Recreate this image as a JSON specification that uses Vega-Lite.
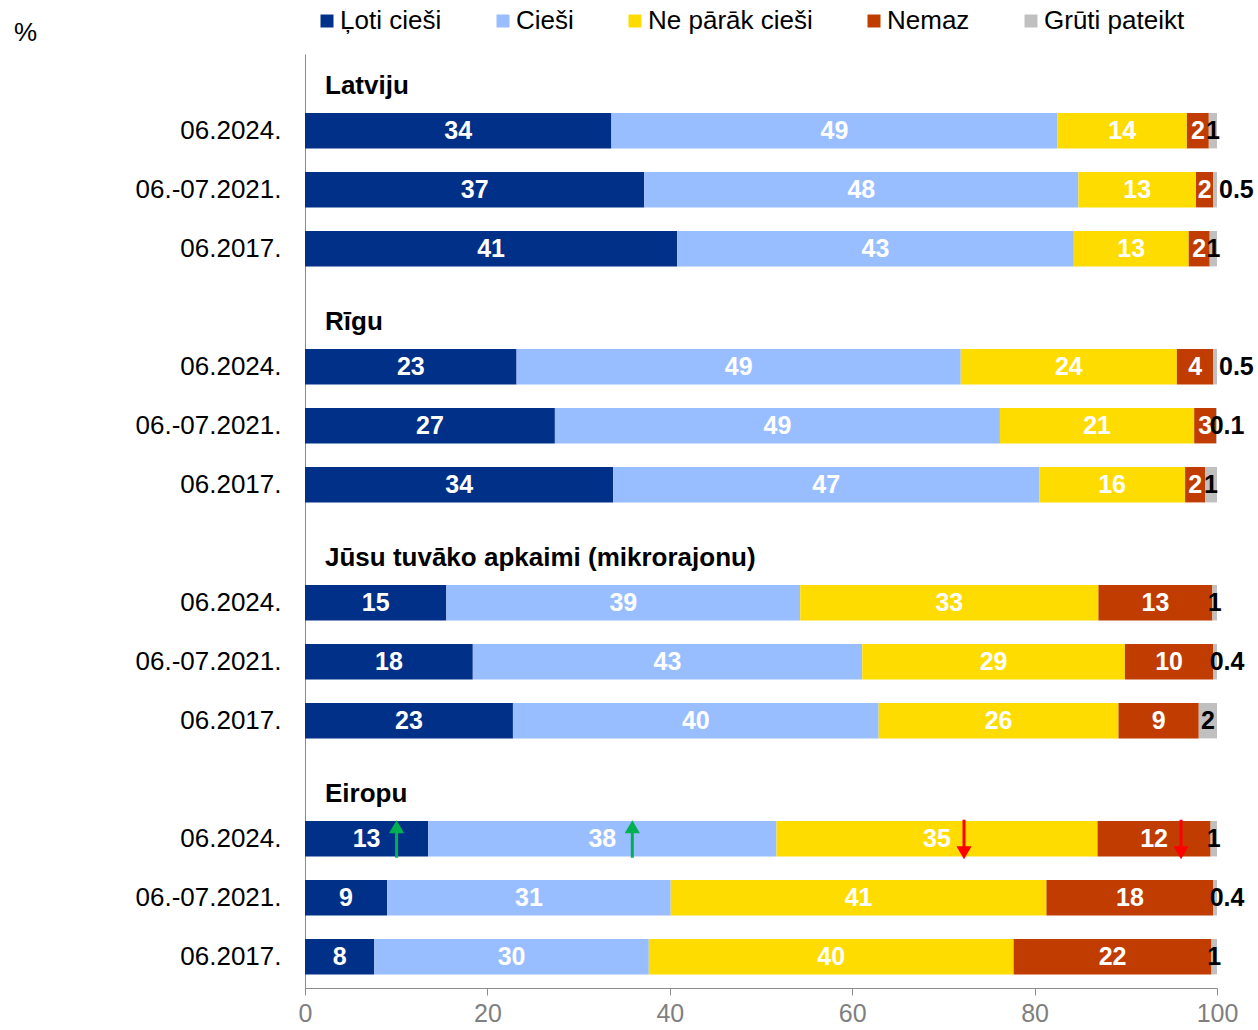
{
  "$schema": "https://vega.github.io/schema/vega-lite/v6.json",
  "width": 912,
  "height": 934,
  "autosize": {"type": "none"},
  "padding": {"left": 305, "top": 54, "right": 41, "bottom": 42},
  "config": {
    "font": "Liberation Sans",
    "view": {"stroke": null}
  },
  "datasets": {
    "headers": [
      {"row": "Latviju", "name": "Latviju"},
      {"row": "Rīgu", "name": "Rīgu"},
      {"row": "Jūsu tuvāko apkaimi (mikrorajonu)", "name": "Jūsu tuvāko apkaimi (mikrorajonu)"},
      {"row": "Eiropu", "name": "Eiropu"}
    ]
  },
  "data": {"values": [
    {"row": "Latviju|06.2024.", "cat": "Ļoti cieši", "k": 1, "v": 33.6, "label": "34"},
    {"row": "Latviju|06.2024.", "cat": "Cieši", "k": 2, "v": 48.9, "label": "49"},
    {"row": "Latviju|06.2024.", "cat": "Ne pārāk cieši", "k": 3, "v": 14.2, "label": "14"},
    {"row": "Latviju|06.2024.", "cat": "Nemaz", "k": 4, "v": 2.4, "label": "2"},
    {"row": "Latviju|06.2024.", "cat": "Grūti pateikt", "k": 5, "v": 0.9, "label": "1"},
    {"row": "Latviju|06.-07.2021.", "cat": "Ļoti cieši", "k": 1, "v": 37.2, "label": "37"},
    {"row": "Latviju|06.-07.2021.", "cat": "Cieši", "k": 2, "v": 47.6, "label": "48"},
    {"row": "Latviju|06.-07.2021.", "cat": "Ne pārāk cieši", "k": 3, "v": 12.9, "label": "13"},
    {"row": "Latviju|06.-07.2021.", "cat": "Nemaz", "k": 4, "v": 1.9, "label": "2"},
    {"row": "Latviju|06.-07.2021.", "cat": "Grūti pateikt", "k": 5, "v": 0.4, "label": "0.5"},
    {"row": "Latviju|06.2017.", "cat": "Ļoti cieši", "k": 1, "v": 40.8, "label": "41"},
    {"row": "Latviju|06.2017.", "cat": "Cieši", "k": 2, "v": 43.5, "label": "43"},
    {"row": "Latviju|06.2017.", "cat": "Ne pārāk cieši", "k": 3, "v": 12.6, "label": "13"},
    {"row": "Latviju|06.2017.", "cat": "Nemaz", "k": 4, "v": 2.3, "label": "2"},
    {"row": "Latviju|06.2017.", "cat": "Grūti pateikt", "k": 5, "v": 0.8, "label": "1"},
    {"row": "Rīgu|06.2024.", "cat": "Ļoti cieši", "k": 1, "v": 23.2, "label": "23"},
    {"row": "Rīgu|06.2024.", "cat": "Cieši", "k": 2, "v": 48.7, "label": "49"},
    {"row": "Rīgu|06.2024.", "cat": "Ne pārāk cieši", "k": 3, "v": 23.7, "label": "24"},
    {"row": "Rīgu|06.2024.", "cat": "Nemaz", "k": 4, "v": 4.0, "label": "4"},
    {"row": "Rīgu|06.2024.", "cat": "Grūti pateikt", "k": 5, "v": 0.4, "label": "0.5"},
    {"row": "Rīgu|06.-07.2021.", "cat": "Ļoti cieši", "k": 1, "v": 27.4, "label": "27"},
    {"row": "Rīgu|06.-07.2021.", "cat": "Cieši", "k": 2, "v": 48.8, "label": "49"},
    {"row": "Rīgu|06.-07.2021.", "cat": "Ne pārāk cieši", "k": 3, "v": 21.3, "label": "21"},
    {"row": "Rīgu|06.-07.2021.", "cat": "Nemaz", "k": 4, "v": 2.4, "label": "3"},
    {"row": "Rīgu|06.-07.2021.", "cat": "Grūti pateikt", "k": 5, "v": 0.1, "label": "0.1"},
    {"row": "Rīgu|06.2017.", "cat": "Ļoti cieši", "k": 1, "v": 33.8, "label": "34"},
    {"row": "Rīgu|06.2017.", "cat": "Cieši", "k": 2, "v": 46.7, "label": "47"},
    {"row": "Rīgu|06.2017.", "cat": "Ne pārāk cieši", "k": 3, "v": 16.0, "label": "16"},
    {"row": "Rīgu|06.2017.", "cat": "Nemaz", "k": 4, "v": 2.2, "label": "2"},
    {"row": "Rīgu|06.2017.", "cat": "Grūti pateikt", "k": 5, "v": 1.3, "label": "1"},
    {"row": "Jūsu|06.2024.", "cat": "Ļoti cieši", "k": 1, "v": 15.5, "label": "15"},
    {"row": "Jūsu|06.2024.", "cat": "Cieši", "k": 2, "v": 38.8, "label": "39"},
    {"row": "Jūsu|06.2024.", "cat": "Ne pārāk cieši", "k": 3, "v": 32.7, "label": "33"},
    {"row": "Jūsu|06.2024.", "cat": "Nemaz", "k": 4, "v": 12.5, "label": "13"},
    {"row": "Jūsu|06.2024.", "cat": "Grūti pateikt", "k": 5, "v": 0.5, "label": "1"},
    {"row": "Jūsu|06.-07.2021.", "cat": "Ļoti cieši", "k": 1, "v": 18.4, "label": "18"},
    {"row": "Jūsu|06.-07.2021.", "cat": "Cieši", "k": 2, "v": 42.7, "label": "43"},
    {"row": "Jūsu|06.-07.2021.", "cat": "Ne pārāk cieši", "k": 3, "v": 28.8, "label": "29"},
    {"row": "Jūsu|06.-07.2021.", "cat": "Nemaz", "k": 4, "v": 9.7, "label": "10"},
    {"row": "Jūsu|06.-07.2021.", "cat": "Grūti pateikt", "k": 5, "v": 0.4, "label": "0.4"},
    {"row": "Jūsu|06.2017.", "cat": "Ļoti cieši", "k": 1, "v": 22.8, "label": "23"},
    {"row": "Jūsu|06.2017.", "cat": "Cieši", "k": 2, "v": 40.1, "label": "40"},
    {"row": "Jūsu|06.2017.", "cat": "Ne pārāk cieši", "k": 3, "v": 26.3, "label": "26"},
    {"row": "Jūsu|06.2017.", "cat": "Nemaz", "k": 4, "v": 8.8, "label": "9"},
    {"row": "Jūsu|06.2017.", "cat": "Grūti pateikt", "k": 5, "v": 2.0, "label": "2"},
    {"row": "Eiropu|06.2024.", "cat": "Ļoti cieši", "k": 1, "v": 13.5, "label": "13", "arrow": "up"},
    {"row": "Eiropu|06.2024.", "cat": "Cieši", "k": 2, "v": 38.2, "label": "38", "arrow": "up"},
    {"row": "Eiropu|06.2024.", "cat": "Ne pārāk cieši", "k": 3, "v": 35.2, "label": "35", "arrow": "down"},
    {"row": "Eiropu|06.2024.", "cat": "Nemaz", "k": 4, "v": 12.4, "label": "12", "arrow": "down"},
    {"row": "Eiropu|06.2024.", "cat": "Grūti pateikt", "k": 5, "v": 0.7, "label": "1"},
    {"row": "Eiropu|06.-07.2021.", "cat": "Ļoti cieši", "k": 1, "v": 9.0, "label": "9"},
    {"row": "Eiropu|06.-07.2021.", "cat": "Cieši", "k": 2, "v": 31.1, "label": "31"},
    {"row": "Eiropu|06.-07.2021.", "cat": "Ne pārāk cieši", "k": 3, "v": 41.2, "label": "41"},
    {"row": "Eiropu|06.-07.2021.", "cat": "Nemaz", "k": 4, "v": 18.3, "label": "18"},
    {"row": "Eiropu|06.-07.2021.", "cat": "Grūti pateikt", "k": 5, "v": 0.4, "label": "0.4"},
    {"row": "Eiropu|06.2017.", "cat": "Ļoti cieši", "k": 1, "v": 7.6, "label": "8"},
    {"row": "Eiropu|06.2017.", "cat": "Cieši", "k": 2, "v": 30.1, "label": "30"},
    {"row": "Eiropu|06.2017.", "cat": "Ne pārāk cieši", "k": 3, "v": 40.0, "label": "40"},
    {"row": "Eiropu|06.2017.", "cat": "Nemaz", "k": 4, "v": 21.7, "label": "22"},
    {"row": "Eiropu|06.2017.", "cat": "Grūti pateikt", "k": 5, "v": 0.6, "label": "1"}
  ]},
  "encoding": {
    "y": {
      "field": "row", "type": "nominal",
      "scale": {
        "domain": ["Latviju", "Latviju|06.2024.", "Latviju|06.-07.2021.", "Latviju|06.2017.",
                   "Rīgu", "Rīgu|06.2024.", "Rīgu|06.-07.2021.", "Rīgu|06.2017.",
                   "Jūsu tuvāko apkaimi (mikrorajonu)", "Jūsu|06.2024.", "Jūsu|06.-07.2021.", "Jūsu|06.2017.",
                   "Eiropu", "Eiropu|06.2024.", "Eiropu|06.-07.2021.", "Eiropu|06.2017."],
        "paddingInner": 0.4, "paddingOuter": 0.115, "align": 0
      },
      "axis": {
        "title": "%", "titleAngle": 0, "titleX": -280, "titleY": -22, "titleFontSize": 26,
        "titleFontWeight": "normal", "titleColor": "black", "titleAlign": "center", "titleBaseline": "middle",
        "labelExpr": "indexof(datum.value, '|') >= 0 ? split(datum.value, '|')[1] : ''",
        "labelFontSize": 26, "labelColor": "black", "ticks": false, "labelPadding": 24,
        "domainColor": "#8c8c8c", "labelLimit": 300
      }
    }
  },
  "layer": [
    {
      "mark": {"type": "bar"},
      "encoding": {
        "x": {"field": "v", "type": "quantitative", "stack": "zero", "scale": {"domain": [0, 100]},
              "axis": {"values": [0, 20, 40, 60, 80, 100], "grid": false, "title": null, "labelFontSize": 25,
                       "labelColor": "#7f7f7f", "labelFlush": false, "tickColor": "#8c8c8c", "tickSize": 7,
                       "domainColor": "#8c8c8c", "labelPadding": 6}},
        "color": {
          "field": "cat", "type": "nominal",
          "scale": {"domain": ["Ļoti cieši", "Cieši", "Ne pārāk cieši", "Nemaz", "Grūti pateikt"],
                    "range": ["#003087", "#99BEFF", "#FFDC00", "#C03C00", "#C0C0C0"]},
          "legend": {"title": null, "orient": "none", "direction": "horizontal", "legendX": 9, "legendY": -46,
                     "labelFontSize": 26, "labelColor": "black", "symbolType": "square", "symbolSize": 169,
                     "symbolStrokeWidth": 0, "labelOffset": 0, "columnPadding": 48, "gridAlign": "none",
                     "padding": 0, "labelLimit": 400}
        },
        "order": {"field": "k", "type": "quantitative"}
      }
    },
    {
      "mark": {"type": "text", "fontWeight": "bold", "fontSize": 25, "color": "white", "baseline": "middle", "align": "center"},
      "encoding": {
        "x": {"field": "v", "type": "quantitative", "stack": "zero", "bandPosition": 0.5, "scale": {"domain": [0, 100]}},
        "detail": {"field": "cat"},
        "order": {"field": "k", "type": "quantitative"},
        "text": {"condition": {"test": "datum.cat !== 'Grūti pateikt'", "field": "label"}, "value": ""}
      }
    },
    {
      "mark": {"type": "text", "fontWeight": "bold", "fontSize": 25, "color": "black", "baseline": "middle", "align": "center"},
      "encoding": {
        "x": {"field": "v", "type": "quantitative", "stack": "zero", "bandPosition": 0.5, "scale": {"domain": [0, 100]}},
        "detail": {"field": "cat"},
        "order": {"field": "k", "type": "quantitative"},
        "text": {"condition": {"test": "datum.cat === 'Grūti pateikt' && indexof(datum.label, '.') < 0", "field": "label"}, "value": ""}
      }
    },
    {
      "mark": {"type": "text", "fontWeight": "bold", "fontSize": 25, "color": "black", "baseline": "middle", "align": "left", "dx": 2},
      "encoding": {
        "x": {"field": "v", "type": "quantitative", "stack": "zero", "bandPosition": 1, "scale": {"domain": [0, 100]}},
        "detail": {"field": "cat"},
        "order": {"field": "k", "type": "quantitative"},
        "text": {"condition": {"test": "datum.cat === 'Grūti pateikt' && datum.label === '0.5'", "field": "label"}, "value": ""}
      }
    },
    {
      "mark": {"type": "text", "fontWeight": "bold", "fontSize": 25, "color": "black", "baseline": "middle", "align": "center", "dx": 10},
      "encoding": {
        "x": {"field": "v", "type": "quantitative", "stack": "zero", "bandPosition": 1, "scale": {"domain": [0, 100]}},
        "detail": {"field": "cat"},
        "order": {"field": "k", "type": "quantitative"},
        "text": {"condition": {"test": "datum.cat === 'Grūti pateikt' && (datum.label === '0.4' || datum.label === '0.1')", "field": "label"}, "value": ""}
      }
    },
    {
      "mark": {"type": "tick", "orient": "vertical", "thickness": 3, "size": 26, "xOffset": 30, "yOffset": 6, "color": "#00B050"},
      "encoding": {
        "x": {"field": "v", "type": "quantitative", "stack": "zero", "bandPosition": 0.5, "scale": {"domain": [0, 100]}},
        "detail": {"field": "cat"},
        "order": {"field": "k", "type": "quantitative"},
        "opacity": {"condition": {"test": "datum.arrow === 'up'", "value": 1}, "value": 0}
      }
    },
    {
      "mark": {"type": "point", "shape": "triangle-up", "filled": true, "size": 230, "xOffset": 30, "yOffset": -12, "color": "#00B050"},
      "encoding": {
        "x": {"field": "v", "type": "quantitative", "stack": "zero", "bandPosition": 0.5, "scale": {"domain": [0, 100]}},
        "detail": {"field": "cat"},
        "order": {"field": "k", "type": "quantitative"},
        "opacity": {"condition": {"test": "datum.arrow === 'up'", "value": 1}, "value": 0}
      }
    },
    {
      "mark": {"type": "tick", "orient": "vertical", "thickness": 3, "size": 28, "xOffset": 27, "yOffset": -5, "color": "#FF0000"},
      "encoding": {
        "x": {"field": "v", "type": "quantitative", "stack": "zero", "bandPosition": 0.5, "scale": {"domain": [0, 100]}},
        "detail": {"field": "cat"},
        "order": {"field": "k", "type": "quantitative"},
        "opacity": {"condition": {"test": "datum.arrow === 'down'", "value": 1}, "value": 0}
      }
    },
    {
      "mark": {"type": "point", "shape": "triangle-down", "filled": true, "size": 230, "xOffset": 27, "yOffset": 14, "color": "#FF0000"},
      "encoding": {
        "x": {"field": "v", "type": "quantitative", "stack": "zero", "bandPosition": 0.5, "scale": {"domain": [0, 100]}},
        "detail": {"field": "cat"},
        "order": {"field": "k", "type": "quantitative"},
        "opacity": {"condition": {"test": "datum.arrow === 'down'", "value": 1}, "value": 0}
      }
    },
    {
      "data": {"name": "headers"},
      "mark": {"type": "text", "fontWeight": "bold", "fontSize": 26, "color": "black", "align": "left", "baseline": "middle", "dx": 20, "dy": 14},
      "encoding": {
        "x": {"datum": 0, "type": "quantitative", "scale": {"domain": [0, 100]}},
        "text": {"field": "name"}
      }
    }
  ]
}
